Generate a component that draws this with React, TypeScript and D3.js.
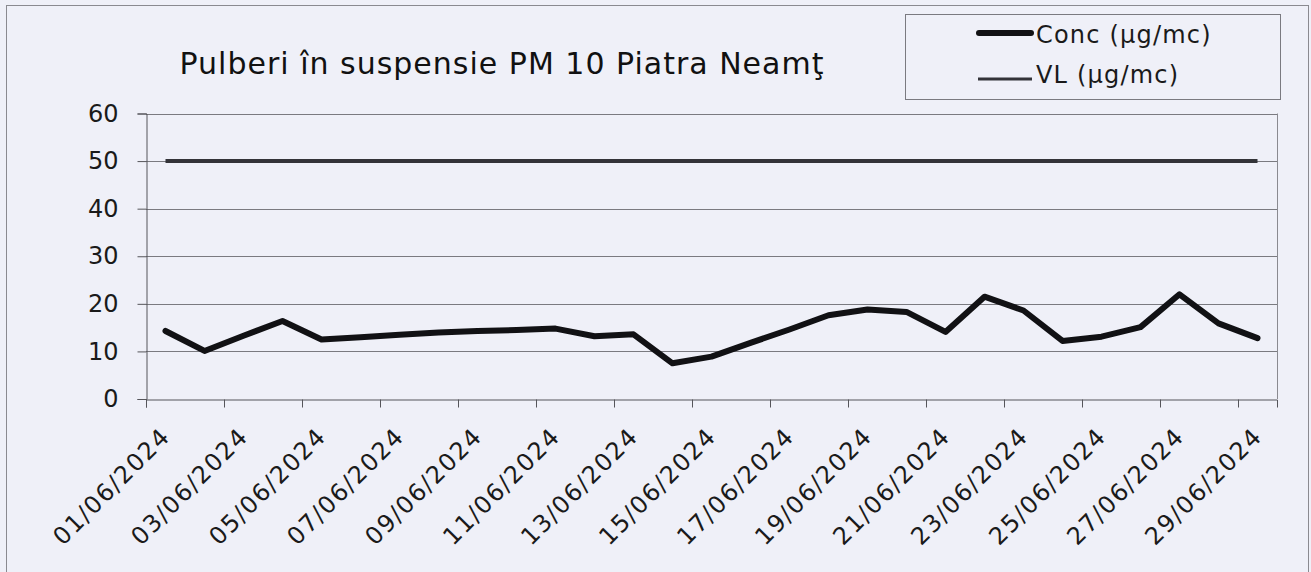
import React, { useRef, useEffect } from 'react';
import * as d3 from 'd3';

const days = [
  '01/06/2024', '02/06/2024', '03/06/2024', '04/06/2024', '05/06/2024', '06/06/2024',
  '07/06/2024', '08/06/2024', '09/06/2024', '10/06/2024', '11/06/2024', '12/06/2024',
  '13/06/2024', '14/06/2024', '15/06/2024', '16/06/2024', '17/06/2024', '18/06/2024',
  '19/06/2024', '20/06/2024', '21/06/2024', '22/06/2024', '23/06/2024', '24/06/2024',
  '25/06/2024', '26/06/2024', '27/06/2024', '28/06/2024', '29/06/2024',
];
const conc = [
  14.3, 10.1, 13.3, 16.4, 12.5, 13.0, 13.5, 14.0, 14.3, 14.5, 14.8, 13.2, 13.6, 7.5, 8.9,
  11.8, 14.6, 17.6, 18.8, 18.3, 14.1, 21.5, 18.6, 12.2, 13.1, 15.1, 22.0, 15.9, 12.8,
];
const vl = days.map(() => 50);
const yTicks = [0, 10, 20, 30, 40, 50, 60];

const title = 'Pulberi în suspensie PM 10 Piatra Neamţ';
const seriesNames = ['Conc (µg/mc)', 'VL (µg/mc)'];

export default function App() {
  const width = 1311;
  const height = 572;
  const svgRef = useRef<SVGSVGElement>(null);
  const font = 'DejaVu Sans, sans-serif';
  const bg = '#eff0f8';
  const ink = '#1a1a1a';

  const margin = { top: 113.5, bottom: 173, left: 146, right: 34 };

  useEffect(() => {
    const svg = d3.select(svgRef.current);
    svg.selectAll('*').remove();

    const x = d3.scaleBand().domain(days).range([margin.left, width - margin.right]);
    // boundaries between categories, for the tick marks
    const xb = d3.scaleLinear().domain([0, days.length]).range([margin.left, width - margin.right]);
    const y = d3.scaleLinear().domain([0, 60]).range([height - margin.bottom, margin.top]);
    const cx = (d: string) => (x(d) as number) + x.bandwidth() / 2;

    svg.append('rect').attr('width', width).attr('height', height).attr('fill', bg);
    svg.append('rect')
      .attr('x', 6.5).attr('y', 5.5).attr('width', 1302).attr('height', 580)
      .attr('fill', 'none').attr('stroke', '#8a8a90').attr('stroke-width', 1);

    svg.append('text')
      .attr('x', 502).attr('y', 74)
      .attr('text-anchor', 'middle')
      .attr('font-family', font).attr('font-size', 30).attr('letter-spacing', 1)
      .attr('fill', '#111')
      .text(title);

    // gridlines
    svg.append('g')
      .selectAll('line')
      .data(yTicks.filter((t) => t > 0))
      .join('line')
      .attr('x1', margin.left).attr('x2', width - margin.right)
      .attr('y1', (d) => Math.round(y(d)) + 0.5).attr('y2', (d) => Math.round(y(d)) + 0.5)
      .attr('stroke', '#7a7a80').attr('stroke-width', 1);

    svg.append('line')
      .attr('x1', width - margin.right + 0.5).attr('x2', width - margin.right + 0.5)
      .attr('y1', y(60)).attr('y2', y(0))
      .attr('stroke', '#8a8a90');

    const yAxis = svg.append('g')
      .attr('transform', `translate(${margin.left + 0.5},0)`)
      .call(d3.axisLeft(y).tickValues(yTicks).tickSize(9).tickPadding(19).tickFormat(d3.format('d')));
    yAxis.select('.domain').attr('stroke', '#55555a');
    yAxis.selectAll('.tick line').attr('stroke', '#55555a');
    yAxis.selectAll('text').attr('font-family', font).attr('font-size', 24).attr('fill', ink);

    const xAxis = svg.append('g')
      .attr('transform', `translate(0,${Math.round(y(0)) + 0.5})`)
      .call(d3.axisBottom(xb).tickValues(d3.range(0, days.length, 2)).tickSize(8).tickFormat(() => ''));
    xAxis.select('.domain').attr('stroke', '#55555a');
    xAxis.selectAll('.tick line').attr('stroke', '#55555a');

    svg.append('g')
      .selectAll('text')
      .data(days.filter((_, i) => i % 2 === 0))
      .join('text')
      .attr('transform', (d) => `translate(${cx(d) + 6},438) rotate(-45)`)
      .attr('text-anchor', 'end')
      .attr('font-family', font).attr('font-size', 24).attr('letter-spacing', 1.5)
      .attr('fill', ink)
      .text((d) => d);

    const line = d3.line<number>()
      .x((_, i) => cx(days[i]))
      .y((d) => y(d));

    svg.append('path')
      .datum(vl)
      .attr('d', line)
      .attr('fill', 'none').attr('stroke', '#333338').attr('stroke-width', 4);

    svg.append('path')
      .datum(conc)
      .attr('d', line)
      .attr('fill', 'none').attr('stroke', '#111114').attr('stroke-width', 6)
      .attr('stroke-linejoin', 'round').attr('stroke-linecap', 'round');

    // legend
    const lg = svg.append('g');
    lg.append('rect')
      .attr('x', 905.5).attr('y', 14.5).attr('width', 375).attr('height', 85)
      .attr('fill', bg).attr('stroke', '#7a7a80');
    lg.append('line').attr('x1', 979).attr('x2', 1031).attr('y1', 33).attr('y2', 33)
      .attr('stroke', '#111114').attr('stroke-width', 6).attr('stroke-linecap', 'round');
    lg.append('line').attr('x1', 978).attr('x2', 1032).attr('y1', 79).attr('y2', 79)
      .attr('stroke', '#333338').attr('stroke-width', 3);
    lg.selectAll('text')
      .data(seriesNames)
      .join('text')
      .attr('x', 1036).attr('y', (_, i) => 43 + i * 40)
      .attr('font-family', font).attr('font-size', 24).attr('letter-spacing', 1.2)
      .attr('fill', ink)
      .text((d) => d);
  }, []);

  return (
    <svg ref={svgRef} width={width} height={height}
      style={{ position: 'absolute', left: 0, top: 0, display: 'block' }} />
  );
}
